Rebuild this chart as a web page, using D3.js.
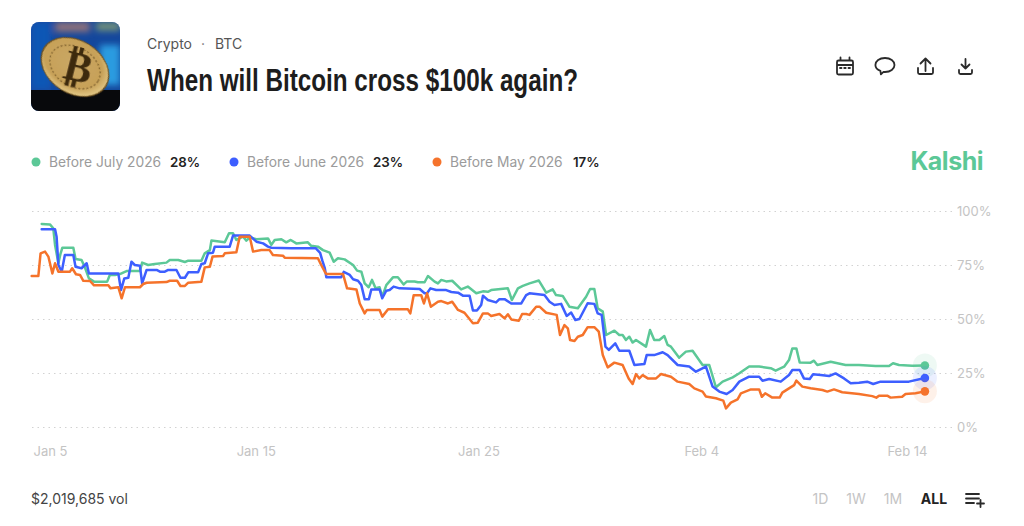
<!DOCTYPE html>
<html>
<head>
<meta charset="utf-8">
<style>
  html, body { margin: 0; padding: 0; background: #fff; }
  svg { display: block; font-family: Inter, "Noto Sans", sans-serif; }
  .axis path { display: none; }
  .axis text { fill: #c4c4c4; font-size: 13px; font-family: Inter, sans-serif; }
  .grid line { stroke: #d2d2d2; stroke-dasharray: 1.5 4; }
</style>
</head>
<body>
<div id="chart"></div>
<script src="https://cdn.jsdelivr.net/npm/d3@7"></script>
<script>
// days after Jan 5 2026, and percent chance
const julyDays = [0.30,0.67,0.82,0.90,1.05,1.15,1.23,1.72,1.82,2.09,2.24,2.42,2.65,3.24,3.36,3.59,3.81,4.11,4.71,4.81,5.08,5.38,5.90,6.05,6.43,6.73,6.88,7.47,7.62,7.85,7.92,8.52,8.71,8.89,9.04,9.34,9.49,9.64,9.94,10.46,10.61,10.76,11.06,11.28,11.48,11.73,12.25,12.40,12.70,12.93,13.23,13.41,13.60,13.90,14.28,14.46,14.65,14.80,14.98,15.13,15.29,15.47,15.59,15.77,16.07,16.29,16.55,16.70,17.04,17.19,17.49,17.64,17.94,18.09,18.24,18.46,18.73,19.13,19.43,19.81,20.11,20.33,20.48,21.23,21.41,21.68,21.90,22.20,22.62,22.95,23.24,23.39,23.69,23.99,24.37,24.74,24.92,25.11,25.26,25.49,25.64,26.01,26.23,26.38,26.53,26.68,26.83,26.98,27.43,27.61,27.80,28.03,28.25,28.40,28.55,28.92,29.22,29.52,29.97,30.27,30.57,30.87,31.32,31.62,32.06,32.51,33.03,33.25,33.63,33.85,34.00,34.18,34.33,34.82,34.97,35.12,35.72,36.39,36.99,37.74,38.34,38.52,38.79,39.38,39.95];
const julyVals = [94.0,93.8,92.0,84.3,75.8,80.4,83.0,83.0,77.8,77.3,73.9,68.8,67.3,67.3,70.4,70.4,70.8,72.2,72.2,76.1,75.0,75.5,76.1,77.3,77.3,76.4,77.0,77.0,80.4,81.9,86.3,85.5,89.7,89.7,86.6,88.1,86.3,87.8,86.9,87.3,84.3,86.6,86.9,85.5,86.6,85.0,85.5,83.9,83.5,81.9,80.7,76.5,78.1,77.6,75.0,72.4,71.9,66.5,64.7,68.1,64.2,64.7,60.3,65.7,69.3,69.3,66.0,67.4,67.4,67.0,67.0,69.9,67.3,66.5,68.1,67.4,67.7,63.7,65.0,61.9,62.8,62.6,63.4,64.2,58.8,64.2,65.3,66.5,67.8,62.2,63.7,61.1,60.7,55.7,55.0,60.3,63.9,63.9,55.0,53.4,42.6,44.6,42.6,42.6,40.3,41.8,39.1,40.3,37.2,44.9,40.3,40.3,42.1,38.0,37.2,32.1,34.9,35.3,28.7,28.7,18.4,21.0,23.0,24.9,28.0,28.0,27.2,26.1,27.9,31.0,36.4,36.4,29.9,29.8,30.7,28.7,30.2,28.7,28.7,28.2,28.2,29.5,28.7,28.4,28.5];

const juneDays = [0.30,0.90,0.97,1.05,1.20,1.34,1.72,1.82,2.09,2.32,2.42,3.74,3.86,4.01,4.19,4.33,4.48,4.71,4.81,5.01,5.46,5.61,5.83,5.98,6.35,6.53,6.73,6.88,7.32,7.47,7.62,7.77,7.99,8.07,8.74,8.89,9.64,9.94,10.24,10.46,10.61,11.51,12.60,12.80,12.90,13.01,13.08,13.75,13.86,14.13,14.28,14.50,14.65,14.80,14.99,15.10,15.47,15.59,15.77,15.92,16.10,16.37,17.27,17.49,17.60,17.75,18.01,18.46,18.69,18.99,19.21,19.51,19.66,19.84,20.03,20.11,20.33,20.70,20.85,21.08,21.38,21.83,22.05,22.20,22.87,23.10,23.32,23.62,23.87,24.07,24.26,24.44,24.81,25.11,25.26,25.44,25.61,25.76,26.05,26.23,26.68,26.91,27.36,27.46,27.80,28.18,28.40,28.85,29.37,29.67,30.12,30.42,30.72,31.05,31.32,31.62,32.06,32.51,32.66,32.96,33.48,33.85,34.00,34.33,34.52,34.78,34.93,35.27,35.65,35.94,36.32,36.62,36.99,37.36,37.63,37.96,39.23,39.95];
const juneVals = [91.5,91.5,88.1,75.0,71.9,79.6,79.6,74.2,73.5,75.8,71.1,71.1,63.4,68.8,69.1,76.5,75.0,74.7,66.5,72.7,72.7,71.9,71.9,72.7,72.7,69.1,69.1,71.6,71.6,75.5,75.8,80.4,80.7,83.5,83.5,88.6,88.6,85.8,85.0,83.5,83.0,82.7,82.8,80.6,77.0,73.5,69.3,69.3,71.8,70.4,68.4,67.7,65.7,59.2,59.2,63.7,63.7,59.6,63.1,63.4,65.0,64.2,63.9,61.9,61.9,64.2,63.4,63.4,62.5,62.2,60.8,60.8,53.9,53.9,56.5,60.8,58.8,57.7,59.2,59.2,57.2,57.2,61.1,61.9,61.1,58.0,56.5,57.0,51.4,53.0,49.5,50.0,57.3,57.0,52.6,51.9,37.2,35.7,38.7,35.3,35.3,28.7,29.2,33.3,33.3,34.6,33.3,28.7,28.0,25.6,28.0,18.7,16.4,15.3,17.1,21.0,23.3,23.3,21.4,22.2,21.0,24.1,26.4,26.4,22.5,22.2,24.4,24.1,23.6,24.8,22.5,20.2,20.5,21.0,19.9,21.0,21.0,22.7];

const mayDays = [-0.15,0.15,0.25,0.45,0.60,0.78,0.90,1.05,1.57,1.67,1.84,2.02,2.17,2.47,2.65,3.29,3.39,3.74,3.89,4.04,4.71,4.86,5.01,5.90,6.05,6.38,6.53,6.73,6.88,7.47,7.62,7.85,7.97,8.45,8.52,9.04,9.19,9.64,9.79,10.16,10.53,10.68,11.13,11.21,12.70,12.85,13.01,13.08,13.83,14.01,14.43,14.58,14.80,14.90,15.47,15.59,15.85,16.74,16.85,17.00,17.34,17.46,17.60,17.77,18.09,18.24,18.54,18.73,18.99,19.28,19.66,19.88,20.11,20.33,20.48,20.85,21.08,21.23,21.38,21.72,21.87,22.05,22.20,22.50,22.65,22.95,23.42,23.57,23.77,23.92,24.02,24.22,24.37,24.59,24.81,25.11,25.31,25.49,25.71,26.01,26.38,26.65,26.83,26.98,27.13,27.28,27.51,27.88,28.10,28.55,28.85,29.37,29.60,29.97,30.12,30.57,30.90,31.02,31.24,31.54,31.69,32.14,32.51,32.63,32.78,33.10,33.43,33.55,33.85,34.08,34.18,34.45,34.82,35.35,35.57,35.87,36.24,36.99,37.59,37.77,37.89,38.26,38.41,38.93,39.08,39.53,39.95];
const mayVals = [69.9,69.9,80.4,81.2,78.9,71.1,75.8,71.9,71.9,73.5,70.7,70.4,67.7,67.6,65.6,65.6,64.2,64.7,59.6,64.7,64.7,66.2,66.8,67.1,67.7,67.7,65.3,65.3,66.8,67.3,73.9,74.2,78.9,79.2,80.4,80.9,88.1,88.1,81.2,81.9,81.9,79.6,79.3,78.4,78.1,75.0,71.9,70.8,70.8,64.2,63.7,57.2,52.6,54.2,54.2,51.1,54.5,54.5,52.6,61.0,61.0,57.2,61.9,55.7,58.0,58.3,57.2,58.0,54.2,52.9,48.0,48.3,52.6,52.6,51.4,52.3,50.3,52.2,49.8,49.2,52.3,52.3,51.9,55.7,55.7,52.9,51.9,42.6,47.2,45.7,40.3,39.8,41.8,42.6,46.2,46.2,44.1,33.3,27.6,29.8,28.7,22.5,19.9,24.5,22.5,24.0,22.5,22.5,24.5,23.3,21.0,19.9,17.9,16.4,14.1,13.3,12.2,8.6,11.3,12.8,15.6,17.4,17.4,14.0,15.6,13.6,13.6,15.9,17.9,19.4,21.5,18.7,17.9,17.1,16.4,17.4,16.1,15.3,14.3,13.6,14.5,14.5,13.6,14.0,15.3,15.6,16.5];

const seriesNames = ["Before July 2026", "Before June 2026", "Before May 2026"];
const seriesLabels = ["28%", "23%", "17%"];
const seriesColors = ["#5cc897", "#3d5eff", "#f5732c"];
const seriesDays = [julyDays, juneDays, mayDays];
const seriesVals = [julyVals, juneVals, mayVals];

const yTicks = [0, 25, 50, 75, 100];
const xTicks = ["2026-01-05", "2026-01-15", "2026-01-25", "2026-02-04", "2026-02-14"];
const ranges = ["1D", "1W", "1M", "ALL"];

const width = 1024, height = 526;
const parseDay = d3.utcParse("%Y-%m-%d");
const start = parseDay(xTicks[0]);
const toDate = (d) => new Date(+start + d * 864e5);

const svg = d3.select("#chart").append("svg").attr("width", width).attr("height", height);
const defs = svg.append("defs");

// Thumbnail
defs.append("clipPath").attr("id", "thumbClip")
  .append("rect").attr("x", 31).attr("y", 22).attr("width", 89).attr("height", 89).attr("rx", 8);
const soft = defs.append("filter").attr("id", "soft");
soft.append("feGaussianBlur").attr("stdDeviation", 0.45);
const blurBg = defs.append("filter").attr("id", "blurBg");
blurBg.append("feGaussianBlur").attr("stdDeviation", 3);
const lineSoft = defs.append("filter").attr("id", "lineSoft").attr("x", "-2%").attr("y", "-5%").attr("width", "104%").attr("height", "110%");
lineSoft.append("feGaussianBlur").attr("stdDeviation", 0.35);
const coinGrad = defs.append("radialGradient").attr("id", "coinGrad").attr("cx", "45%").attr("cy", "45%").attr("r", "62%");
coinGrad.append("stop").attr("offset", "0%").attr("stop-color", "#c9a765");
coinGrad.append("stop").attr("offset", "70%").attr("stop-color", "#c7a158");
coinGrad.append("stop").attr("offset", "100%").attr("stop-color", "#ecd596");

const thumb = svg.append("g").attr("clip-path", "url(#thumbClip)");
thumb.append("rect").attr("x", 31).attr("y", 22).attr("width", 89).attr("height", 89).attr("fill", "#14479c");
const bg = thumb.append("g").attr("filter", "url(#blurBg)");
bg.append("rect").attr("x", 31).attr("y", 22).attr("width", 20).attr("height", 68).attr("fill", "#0d56b5");
bg.append("rect").attr("x", 100).attr("y", 45).attr("width", 20).attr("height", 40).attr("fill", "#2a9be0");
bg.append("rect").attr("x", 55).attr("y", 22).attr("width", 35).attr("height", 10).attr("fill", "#8c6f7c");
bg.append("rect").attr("x", 96).attr("y", 22).attr("width", 24).attr("height", 9).attr("fill", "#6f8f7a");
thumb.append("rect").attr("x", 31).attr("y", 90).attr("width", 89).attr("height", 21).attr("fill", "#08090c");
const coin = thumb.append("g").attr("transform", "translate(75,67) rotate(32)").attr("filter", "url(#soft)");
coin.append("ellipse").attr("rx", 37).attr("ry", 27).attr("fill", "#6f5220");
coin.append("ellipse").attr("rx", 35.5).attr("ry", 26).attr("fill", "url(#coinGrad)");
coin.append("ellipse").attr("rx", 27).attr("ry", 19.5).attr("fill", "none").attr("stroke", "#7d5f2c").attr("stroke-width", 1.2).attr("stroke-dasharray", "2 2");
thumb.append("text").attr("transform", "translate(75,81) rotate(14)").attr("text-anchor", "middle")
  .attr("font-family", "DejaVu Sans").attr("font-weight", 700).attr("font-size", 42)
  .attr("fill", "#3d2a10").attr("filter", "url(#soft)").text("₿");

// Header
svg.append("text").attr("x", 147).attr("y", 49).attr("font-size", 14).attr("fill", "#555").text("Crypto");
svg.append("text").attr("x", 201).attr("y", 49).attr("font-size", 14).attr("fill", "#777").text("·");
svg.append("text").attr("x", 215).attr("y", 49).attr("font-size", 14).attr("fill", "#555").text("BTC");
svg.append("text").attr("x", 147).attr("y", 91).attr("font-family", "'Liberation Sans', sans-serif")
  .attr("font-size", 32).attr("font-weight", 700).attr("fill", "#1d1d1d")
  .attr("textLength", 431).attr("lengthAdjust", "spacingAndGlyphs")
  .text("When will Bitcoin cross $100k again?");

// Header icons
const iconStroke = "#2a2a2a";
const icons = [
  "M838.5 60.5h13a1.5 1.5 0 0 1 1.5 1.5v11a1.5 1.5 0 0 1-1.5 1.5h-13a1.5 1.5 0 0 1-1.5-1.5v-11a1.5 1.5 0 0 1 1.5-1.5zM837 65h16M840.5 57.5v3M849.5 57.5v3M840 68h1.5M844.2 68h1.5M848.5 68h1.5",
  "M885 58c5.5 0 9.5 3 9.5 7s-4 7-9.5 7c-.5 0-1 0-1.5-.1l-2.6 2.4-.5-3.4c-3-1.2-5-3.5-5-5.9 0-4 4-7 9.6-7z",
  "M925.5 71v-12M920.5 63.5l5-5 5 5M918 68v4.5a1.5 1.5 0 0 0 1.5 1.5h12a1.5 1.5 0 0 0 1.5-1.5V68",
  "M965.5 59v9.5M961.5 64.5l4 4 4-4M959 70v2.5a1.5 1.5 0 0 0 1.5 1.5h10a1.5 1.5 0 0 0 1.5-1.5V70"
];
svg.append("g").selectAll("path").data(icons).join("path")
  .attr("d", (d) => d).attr("fill", "none").attr("stroke", iconStroke)
  .attr("stroke-width", 1.8).attr("stroke-linecap", "round").attr("stroke-linejoin", "round");

// Legend
const legendDotX = [36, 234, 437];
const legendNameX = [49, 247, 450];
const legendPctX = [170, 373, 573];
const legend = svg.append("g").selectAll("g").data(seriesNames).join("g");
legend.append("circle").attr("cx", (d, i) => legendDotX[i]).attr("cy", 162).attr("r", 4.5).attr("fill", (d, i) => seriesColors[i]);
legend.append("text").attr("x", (d, i) => legendNameX[i]).attr("y", 167).attr("font-size", 13.8).attr("fill", "#9b9b9b").text((d) => d);
legend.append("text").attr("x", (d, i) => legendPctX[i]).attr("y", 167).attr("font-size", 13.3).attr("font-weight", 600).attr("fill", "#222").text((d, i) => seriesLabels[i]);

svg.append("text").attr("x", 983).attr("y", 170).attr("text-anchor", "end").attr("font-size", 25)
  .attr("font-weight", 700).attr("letter-spacing", -0.5).attr("fill", "#5cc897").text("Kalshi");

// Scales
const x = d3.scaleUtc().domain([start, parseDay(xTicks[4])]).range([35, 926]);
const y = d3.scaleLinear().domain([0, 100]).range([427, 211]);

// Grid and axes
svg.append("g").attr("class", "grid").attr("transform", "translate(32,0)")
  .call(d3.axisLeft(y).tickValues(yTicks).tickSize(-922).tickFormat(""))
  .call((g) => g.select(".domain").remove());

svg.append("g").attr("class", "axis").attr("transform", "translate(957,0)")
  .call(d3.axisRight(y).tickValues(yTicks).tickSize(0).tickPadding(0).tickFormat((d) => d + "%"));

svg.append("g").attr("class", "axis").attr("transform", "translate(0,441)")
  .call(d3.axisBottom(x).tickValues(xTicks.map(parseDay)).tickSize(0).tickPadding(6).tickFormat(d3.utcFormat("%b %-d")))
  .call((g) => g.selectAll("text")
    .attr("text-anchor", (d, i) => (i === 0 ? "start" : i === 4 ? "end" : "middle"))
    .attr("dx", (d, i) => (i === 0 ? -2 : i === 4 ? 1 : -2)));

// Lines, drawn back to front
const line = d3.line().x((d) => x(toDate(d[0]))).y((d) => y(d[1])).curve(d3.curveLinear);
seriesVals.forEach((vals, i) => {
  const pts = d3.zip(seriesDays[i], vals);
  svg.append("path").datum(pts).attr("d", line).attr("fill", "none")
    .attr("stroke", seriesColors[i]).attr("stroke-width", 2.5).attr("filter", "url(#lineSoft)")
    .attr("stroke-linejoin", "round").attr("stroke-linecap", "round");
});

// End markers
seriesVals.forEach((vals, i) => {
  const cx = x(toDate(seriesDays[i][seriesDays[i].length - 1]));
  const cy = y(vals[vals.length - 1]);
  svg.append("circle").attr("cx", cx).attr("cy", cy).attr("r", 12).attr("fill", seriesColors[i]).attr("opacity", 0.1);
  svg.append("circle").attr("cx", cx).attr("cy", cy).attr("r", 4.3).attr("fill", seriesColors[i]);
});

// Footer
svg.append("text").attr("x", 31).attr("y", 504).attr("font-size", 14).attr("fill", "#444").text("$2,019,685 vol");
const rangeX = [820.5, 856, 893, 934];
svg.append("g").selectAll("text").data(ranges).join("text")
  .attr("x", (d, i) => rangeX[i]).attr("y", 504).attr("text-anchor", "middle").attr("font-size", 14)
  .attr("font-weight", (d) => (d === "ALL" ? 700 : 400))
  .attr("fill", (d) => (d === "ALL" ? "#222" : "#c4c4c4")).text((d) => d);
svg.append("path").attr("d", "M966 494h13M966 498.5h13M966 503h8M977 503.5h7M980.5 500v7")
  .attr("fill", "none").attr("stroke", "#2a2a2a").attr("stroke-width", 1.8).attr("stroke-linecap", "round");
</script>
</body>
</html>
